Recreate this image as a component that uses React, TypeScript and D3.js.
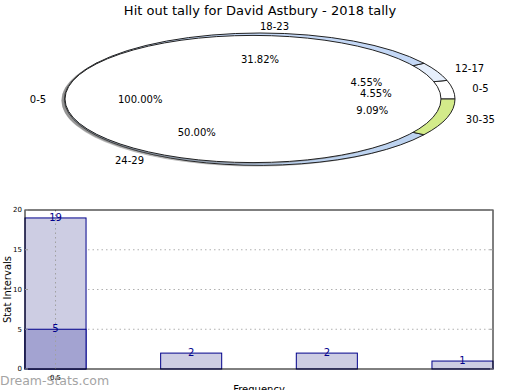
import React from "react";
import * as d3 from "d3";

// outer pie (tally by interval)
const pieLabels = ["0-5", "12-17", "18-23", "24-29", "30-35"];
const pieCounts = [1, 1, 7, 11, 2];
const pieColors = ["#ffffff", "#e6effc", "#c4d8f6", "#bdd3f0", "#d3eb8a"];

// inner pie drawn over it
const innerLabels = ["0-5"];
const innerCounts = [1];
const innerColors = ["#ffffff"];

// bar chart
const barValues = [19, 2, 2, 1];
const overlayValues = [5];
const xTickLabels = ["0.5"];
const yTicks = [0, 5, 10, 15, 20];

const font = "DejaVu Sans, sans-serif";

function pieArcs(counts) {
  // matplotlib: start at 3 o'clock, counter-clockwise
  return d3
    .pie<number>()
    .sort(null)
    .startAngle(Math.PI / 2)
    .endAngle(Math.PI / 2 - 2 * Math.PI)(counts);
}

function PieWedges({ counts, colors, cx, cy, rx, ry }) {
  const arcs = pieArcs(counts);
  const arc = d3.arc<any>().innerRadius(0).outerRadius(1);
  return (
    <g>
      <ellipse cx={cx - 3.5} cy={cy + 1.5} rx={rx} ry={ry} fill="#666" opacity={0.45} />
      <g transform={`translate(${cx},${cy}) scale(${rx},${ry})`}>
        {arcs.map((a, i) => (
          <path
            key={i}
            d={arc(a) ?? ""}
            fill={colors[i]}
            stroke="#222"
            strokeWidth={1}
            vectorEffect="non-scaling-stroke"
          />
        ))}
      </g>
    </g>
  );
}

function PieLabels({ labels, counts, cx, cy, rx, ry }) {
  const total = d3.sum(counts);
  const arcs = pieArcs(counts);
  return (
    <g fontFamily={font} fontSize={10} fill="#000">
      {arcs.map((a, i) => {
        const mid = (a.startAngle + a.endAngle) / 2;
        const ux = Math.sin(mid);
        const uy = -Math.cos(mid);
        return (
          <g key={i}>
            <text
              x={cx + 1.1 * rx * ux}
              y={cy + 1.1 * ry * uy}
              dy="0.35em"
              textAnchor={ux > -1e-6 ? "start" : "end"}
            >
              {labels[i]}
            </text>
            <text x={cx + 0.6 * rx * ux} y={cy + 0.6 * ry * uy} dy="0.35em" textAnchor="middle">
              {((counts[i] / total) * 100).toFixed(2)}%
            </text>
          </g>
        );
      })}
    </g>
  );
}

function Bars() {
  const left = 25, right = 493, top = 210, bottom = 369;
  const x = d3.scaleLinear([0, 3.45], [left, right]);
  const y = d3.scaleLinear([0, 20], [bottom, top]);
  const w = 0.45;
  const navy = "#00008b";
  return (
    <g fontFamily={font}>
      {yTicks.slice(1, -1).map((t) => (
        <line key={t} x1={left} x2={right} y1={y(t)} y2={y(t)} stroke="#b0b0b0" strokeDasharray="1.5,3" />
      ))}
      {barValues.map((v, i) => (
        <rect key={i} x={x(i)} y={y(v)} width={x(w) - x(0)} height={y(0) - y(v)} fill="#cdcde3" stroke={navy} strokeWidth={1} />
      ))}
      {overlayValues.map((v, i) => (
        <rect key={i} x={x(i)} y={y(v)} width={x(w) - x(0)} height={y(0) - y(v)} fill="#a3a3d1" stroke={navy} strokeWidth={1} />
      ))}
      {xTickLabels.map((l, i) => (
        <line key={l} x1={x(i + w / 2)} x2={x(i + w / 2)} y1={top} y2={bottom} stroke="#a0a0a0" strokeDasharray="1.5,3" />
      ))}
      {barValues.map((v, i) => (
        <text key={i} x={x(i + w / 2)} y={y(v) + 3} textAnchor="middle" fontSize={10} fill={navy}>{v}</text>
      ))}
      {overlayValues.map((v, i) => (
        <text key={i} x={x(i + w / 2)} y={y(v) + 3} textAnchor="middle" fontSize={10} fill={navy}>{v}</text>
      ))}
      <rect x={left} y={top} width={right - left} height={bottom - top} fill="none" stroke="#000" strokeWidth={1} />
      {yTicks.map((t) => (
        <g key={t}>
          <line x1={right - 3} x2={right} y1={y(t)} y2={y(t)} stroke="#999" />
          <line x1={left} x2={left + 3} y1={y(t)} y2={y(t)} stroke="#999" />
          <text x={left - 3} y={y(t)} dy="0.35em" textAnchor="end" fontSize={7} fill="#000">{t}</text>
        </g>
      ))}
      <text x={4} y={(top + bottom) / 2} transform={`rotate(-90,4,${(top + bottom) / 2})`} dy="0.7em" textAnchor="middle" fontSize={10}>Stat Intervals</text>
      <text x={0} y={385} fontSize={12.5} fill="#a4a4a4">Dream-Stats.com</text>
      {xTickLabels.map((l, i) => (
        <text key={l} x={x(i + w / 2)} y={380} textAnchor="middle" fontSize={7}>{l}</text>
      ))}
      <text x={(left + right) / 2} y={393} textAnchor="middle" fontSize={10}>Frequency</text>
    </g>
  );
}

export default function App() {
  return (
    <svg width={520} height={390} style={{ position: "absolute", left: 0, top: 0, background: "#fff" }}>
      <rect width={520} height={390} fill="#fff" />
      <text x={260} y={15} textAnchor="middle" fontFamily={font} fontSize={13}>
        Hit out tally for David Astbury - 2018 tally
      </text>
      <PieWedges counts={pieCounts} colors={pieColors} cx={260} cy={99} rx={195} ry={66} />
      <PieWedges counts={innerCounts} colors={innerColors} cx={253} cy={99} rx={188} ry={63.6} />
      <PieLabels labels={pieLabels} counts={pieCounts} cx={260} cy={99} rx={195} ry={66} />
      <PieLabels labels={innerLabels} counts={innerCounts} cx={253} cy={99} rx={188} ry={63.6} />
      <Bars />
    </svg>
  );
}
